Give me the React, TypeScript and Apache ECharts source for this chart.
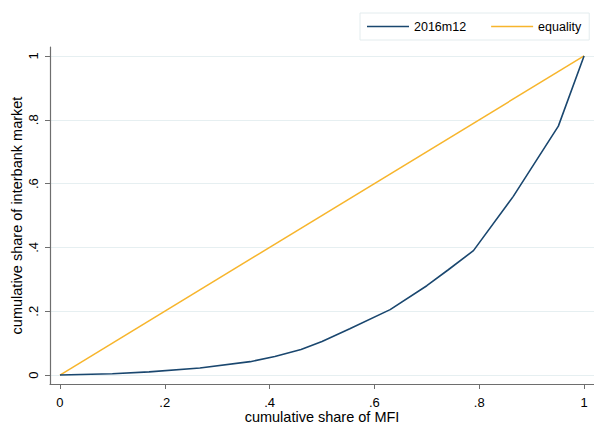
import React, { useEffect, useRef } from "react";
import * as echarts from "echarts";

// Lorenz curve of the interbank market, December 2016
const shareMFI = [0, 0.1, 0.17, 0.267, 0.363, 0.41, 0.46, 0.5, 0.553, 0.63, 0.7, 0.741, 0.789, 0.865, 0.951, 1];
const shareMarket = [0, 0.004, 0.01, 0.022, 0.042, 0.058, 0.08, 0.105, 0.145, 0.205, 0.28, 0.33, 0.39, 0.56, 0.78, 1];
const equalityX = [0, 1];
const equalityY = [0, 1];
const tickValues = [0, 0.2, 0.4, 0.6, 0.8, 1];
const seriesNames = ["2016m12", "equality"];

const NAVY = "#1a476f";
const GOLD = "#f7b52c";
const FONT = "'Liberation Sans', Arial, sans-serif";

const fmt = (v: number) => {
  const r = Math.round(v * 10) / 10;
  if (r === 0) return "0";
  if (r === 1) return "1";
  return String(r).replace(/^0\./, ".");
};

export default function App() {
  const ref = useRef<HTMLDivElement>(null);

  useEffect(() => {
    if (!ref.current) return;
    const chart = echarts.init(ref.current, undefined, { renderer: "svg" });

    const axisCommon = {
      type: "value" as const,
      axisLine: { show: true, onZero: false, lineStyle: { color: "#6e6e6e", width: 1.2 } },
      axisTick: { show: true, length: 5, lineStyle: { color: "#6e6e6e" }, customValues: tickValues },
      nameLocation: "middle" as const,
      nameMoveOverlap: false,
      nameTextStyle: { color: "#000", fontSize: 14.5, lineHeight: 15, fontFamily: FONT },
    };

    chart.setOption({
      animation: false,
      backgroundColor: "#fff",
      textStyle: { fontFamily: FONT },
      grid: { left: 50, right: 0, top: 47, bottom: 42, containLabel: false, outerBoundsMode: "none" },
      legend: {
        data: seriesNames,
        left: 360,
        top: 13,
        padding: [7, 8, 7, 7],
        itemGap: 25,
        itemWidth: 42,
        itemHeight: 1.5,
        icon: "rect",
        selectedMode: false,
        borderColor: "#e3ecee",
        borderWidth: 1,
        textStyle: { color: "#000", fontSize: 12.5, fontFamily: FONT },
      },
      xAxis: {
        ...axisCommon,
        min: -0.019,
        max: 1.019,
        splitLine: { show: false },
        name: "cumulative share of MFI",
        nameGap: 25,
        axisLabel: {
          customValues: tickValues,
          formatter: fmt,
          color: "#000",
          fontSize: 13,
          fontFamily: FONT,
          margin: 12,
        },
      },
      yAxis: {
        ...axisCommon,
        min: -0.028,
        max: 1.028,
        splitLine: { show: true, lineStyle: { color: "#e6eff1", width: 1.2 } },
        name: "cumulative share of interbank market",
        nameGap: 26,
        axisLabel: {
          customValues: tickValues,
          formatter: fmt,
          rotate: 90,
          color: "#000",
          fontSize: 13,
          fontFamily: FONT,
          margin: 10,
        },
      },
      series: [
        {
          name: seriesNames[1],
          type: "line",
          data: equalityX.map((x, i) => [x, equalityY[i]]),
          showSymbol: false,
          symbol: "none",
          lineStyle: { color: GOLD, width: 1.5 },
          itemStyle: { color: GOLD },
          z: 2,
        },
        {
          name: seriesNames[0],
          type: "line",
          data: shareMFI.map((x, i) => [x, shareMarket[i]]),
          showSymbol: false,
          symbol: "none",
          lineStyle: { color: NAVY, width: 1.6 },
          itemStyle: { color: NAVY },
          z: 3,
        },
      ],
    });

    return () => chart.dispose();
  }, []);

  return <div ref={ref} style={{ width: 594, height: 426, position: "absolute", left: 0, top: 0 }} />;
}
